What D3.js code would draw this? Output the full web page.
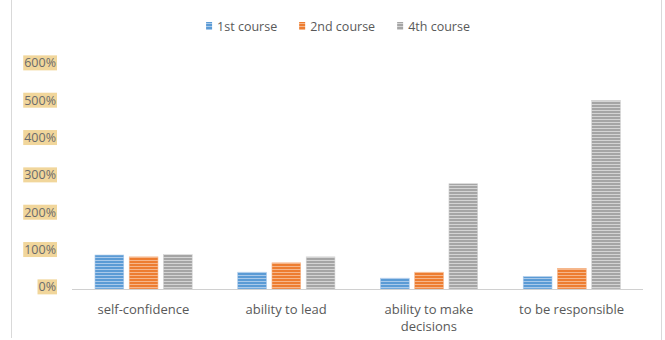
<!DOCTYPE html>
<html>
<head>
<meta charset="utf-8">
<script src="https://cdn.jsdelivr.net/npm/d3@7"></script>
<style>
  body { margin: 0; background: #fff; }
  svg { font-family: "Open Sans", sans-serif; }
</style>
</head>
<body>
<svg id="chart" width="665" height="340"></svg>
<script>
// data (percent)
var categories = ["self-confidence", "ability to lead", "ability to make decisions", "to be responsible"];
var catLines = [["self-confidence"], ["ability to lead"], ["ability to make", "decisions"], ["to be responsible"]];
var seriesNames = ["1st course", "2nd course", "4th course"];
var course1 = [91, 45, 29, 33];
var course2 = [86, 70, 45, 55];
var course4 = [92, 86, 282, 505];
var yTicks = [0, 100, 200, 300, 400, 500, 600];

var colors = ["#5b9bd5", "#ed7d31", "#a5a5a5"];
var stripes = ["#a9c9ea", "#f6b68a", "#d4d4d4"];

var svg = d3.select("#chart");
var values = [course1, course2, course4];

// striped fills
var defs = svg.append("defs");
colors.forEach(function(c, i) {
    var p = defs.append("pattern")
        .attr("id", "pat" + i)
        .attr("patternUnits", "userSpaceOnUse")
        .attr("width", 6).attr("height", 3);
    p.append("rect").attr("width", 6).attr("height", 3).attr("fill", c);
    p.append("rect").attr("y", 2).attr("width", 6).attr("height", 1).attr("fill", stripes[i]);
});

// frame lines left and right
svg.append("line").attr("x1", 11.5).attr("x2", 11.5).attr("y1", 0).attr("y2", 338)
    .attr("stroke", "#d9d9d9");
svg.append("line").attr("x1", 661.5).attr("x2", 661.5).attr("y1", 0).attr("y2", 340)
    .attr("stroke", "#d9d9d9");

var x0 = d3.scaleBand().domain(categories).range([72, 643]).padding(0);
var bw = x0.bandwidth();
var x1 = d3.scaleBand().domain(seriesNames).range([bw * 0.161, bw * 0.842]).paddingInner(0.16);
var y = d3.scaleLinear().domain([0, 600]).range([289, 65]);

// y tick labels with highlighted background
var yg = svg.append("g");
yTicks.forEach(function(t) {
    var g = yg.append("g");
    var txt = g.append("text")
        .attr("x", 56).attr("y", y(t) - 2)
        .attr("text-anchor", "end").attr("dy", "0.35em")
        .attr("font-size", 12.5).attr("fill", "#6b6b6b")
        .text(t + "%");
    var bb = txt.node().getBBox();
    g.insert("rect", "text")
        .attr("x", bb.x - 1).attr("y", bb.y + 1)
        .attr("width", bb.width + 2).attr("height", bb.height - 2)
        .attr("fill", "#f1d69b");
});

// bars
var groups = svg.append("g").selectAll("g")
    .data(categories)
    .enter().append("g")
    .attr("transform", function(d) { return "translate(" + x0(d) + ",0)"; });

groups.selectAll("rect")
    .data(function(d, ci) {
        return seriesNames.map(function(s, si) { return { s: s, si: si, v: values[si][ci] }; });
    })
    .enter().append("rect")
    .attr("x", function(d) { return x1(d.s); })
    .attr("y", function(d) { return y(d.v); })
    .attr("width", x1.bandwidth())
    .attr("height", function(d) { return y(0) - y(d.v); })
    .attr("fill", function(d) { return "url(#pat" + d.si + ")"; })
    .attr("stroke", function(d) { return stripes[d.si]; })
    .attr("stroke-width", 0.6);

// baseline
svg.append("line").attr("x1", 72).attr("x2", 643).attr("y1", 289.5).attr("y2", 289.5)
    .attr("stroke", "#d0d0d0");

// category labels
categories.forEach(function(c, i) {
    var t = svg.append("text")
        .attr("x", x0(c) + bw / 2).attr("y", 314)
        .attr("text-anchor", "middle")
        .attr("font-size", 13).attr("fill", "#595959");
    catLines[i].forEach(function(line, li) {
        t.append("tspan").attr("x", x0(c) + bw / 2).attr("dy", li == 0 ? 0 : 17).text(line);
    });
});

// legend
var leg = svg.append("g");
var lx = 0;
seriesNames.forEach(function(s, i) {
    var g = leg.append("g").attr("transform", "translate(" + lx + ",0)");
    g.append("rect").attr("x", 0).attr("y", 22).attr("width", 6).attr("height", 8)
        .attr("fill", "url(#pat" + i + ")");
    var t = g.append("text").attr("x", 11).attr("y", 27).attr("dy", "0.35em")
        .attr("font-size", 12.5).attr("fill", "#595959").text(s);
    lx += 11 + t.node().getComputedTextLength() + 22;
});
var legW = lx - 22;
leg.attr("transform", "translate(" + (338 - legW / 2) + ",0)");
</script>
</body>
</html>
